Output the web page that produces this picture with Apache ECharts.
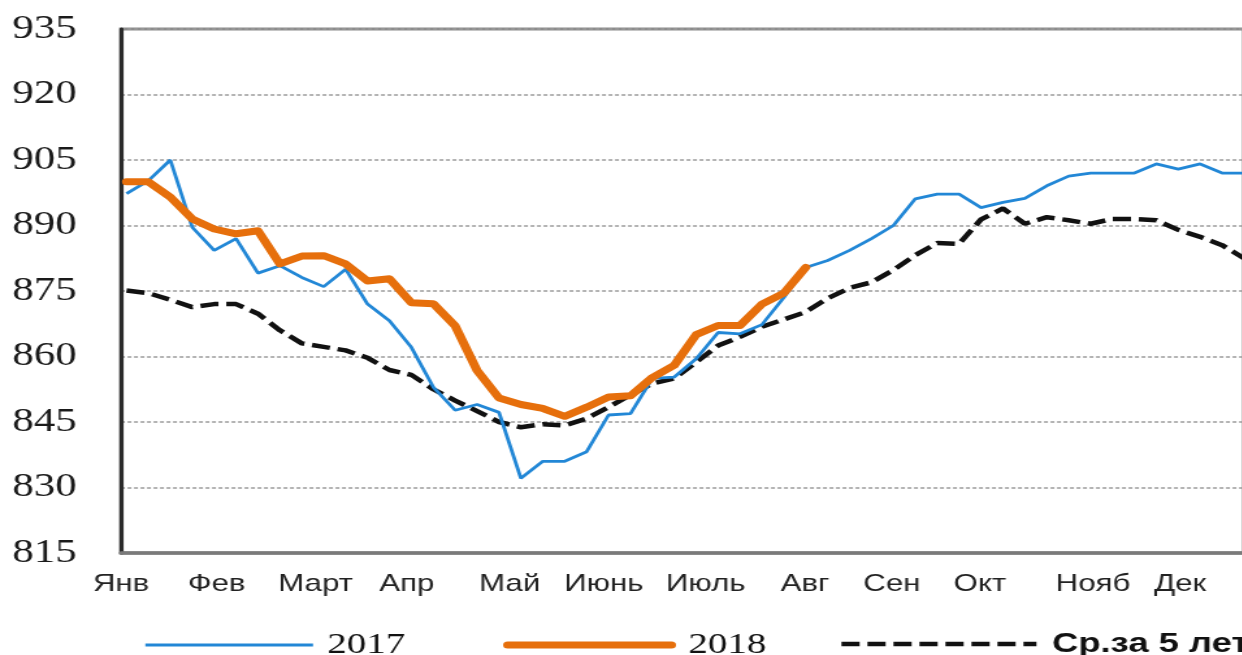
<!DOCTYPE html>
<html>
<head>
<meta charset="utf-8">
<script src="https://cdn.jsdelivr.net/npm/echarts@6/dist/echarts.min.js"></script>
<style>
  html, body { margin: 0; padding: 0; background: #fff; overflow: hidden; }
  /* the source picture is stretched sideways, so the chart is drawn narrower and widened */
  #main { width: 960px; height: 655px; transform: scaleX(1.3); transform-origin: 0 0; }
</style>
</head>
<body>
<div id="main"></div>
<script>
// weekly values, week 0 .. 51
var s2017 = [897.3, 900.3, 905, 889.6, 884.3, 887, 879.1, 880.8, 878.1, 876, 880, 872, 868.2, 862.1,
  853, 847.7, 849, 847.2, 832.1, 836, 836, 838.2, 846.6, 846.9, 855,
  855.3, 859.5, 865.5, 865.2, 867.3, 873.5, 880.4,
  882, 884.3, 887, 890, 896.1, 897.2, 897.2, 894.1, 895.3, 896.2, 899.1, 901.3, 902, 902, 902, 904.1, 902.9, 904.1, 902, 902];
var s2018 = [900, 900, 896.5, 891.5, 889.2, 888.1, 888.8, 881.2, 883, 883.1, 881.2, 877.3, 877.8, 872.3, 872.1,
  867, 856.8, 850.5, 849, 848.1, 846.3, 848.4, 850.7, 851, 855.2, 858, 865, 867.1, 867.1, 872, 874.5, 880.4];
var sAvg = [875.1, 874.5, 873, 871.3, 872, 872, 869.8, 866, 863, 862.2, 861.4, 859.7, 856.9, 855.8, 852.5,
  849.9, 847.5, 845, 843.8, 844.5, 844.2, 845.8, 848.4, 851.2, 853.8, 855, 858.7, 862.5, 864.5, 866.8, 868.5, 870.2,
  873.3, 875.7, 877, 879.8, 883.2, 886, 885.8, 891.4, 893.9, 890.4, 891.9, 891.2, 890.4, 891.5, 891.5, 891.2, 889, 887.4, 885.5, 882.5];

var seriesNames = ['2017', '2018', 'Ср.за 5 лет'];

// month labels and where they sit on the week axis
var monthNames = ['Янв', 'Фев', 'Март', 'Апр', 'Май', 'Июнь', 'Июль', 'Авг', 'Сен', 'Окт', 'Нояб', 'Дек'];
var monthPos = [-0.25, 4.11, 8.63, 12.79, 17.49, 21.78, 26.44, 30.96, 34.93, 38.95, 44.11, 48.08];

var yTicks = [815, 830, 845, 860, 875, 890, 905, 920, 935];

function toPoints(arr) {
  return arr.map(function (v, i) { return [i, v]; });
}

var chart = echarts.init(document.getElementById('main'), null, { width: 960, height: 655 });

var serifText = { fontFamily: 'Liberation Serif', fontSize: 30, color: '#111' };

// one legend per item, placed where the source has them
function legendAt(name, left, w, textStyle) {
  return {
    data: [name],
    left: left,
    top: 625,
    itemWidth: w,
    itemHeight: 14,
    itemStyle: { opacity: 0 },
    lineStyle: { width: 'inherit' },
    textStyle: textStyle
  };
}

var option = {
  animation: false,
  grid: {
    left: 93.1,
    right: 3.1,
    top: 29,
    bottom: 102,
    show: true,
    borderColor: '#8c8c8c',
    borderWidth: 3
  },
  legend: [
    legendAt(seriesNames[0], 105.4, 129, Object.assign({ padding: [0, 0, 0, 6] }, serifText)),
    legendAt(seriesNames[1], 382, 126, Object.assign({ padding: [0, 0, 0, 8] }, serifText)),
    legendAt(seriesNames[2], 640, 150, {
      fontFamily: 'Liberation Sans',
      fontWeight: 'bold',
      fontSize: 28,
      color: '#111',
      padding: [0, 0, 0, 7]
    })
  ],
  xAxis: {
    type: 'value',
    min: -0.25,
    max: 51,
    axisLine: { show: true, onZero: false, lineStyle: { color: '#7a7a7a', width: 3.5 } },
    axisTick: { show: false },
    splitLine: { show: false },
    axisLabel: {
      customValues: monthPos,
      margin: 19,
      fontFamily: 'Liberation Sans',
      fontSize: 24,
      color: '#222',
      formatter: function (v) {
        var k = monthPos.indexOf(v);
        return k >= 0 ? monthNames[k] : '';
      }
    }
  },
  yAxis: {
    type: 'value',
    min: yTicks[0],
    max: yTicks[yTicks.length - 1],
    interval: 15,
    axisLine: { show: true, onZero: false, lineStyle: { color: '#2a2a2a', width: 3.2 } },
    axisTick: { show: false },
    axisLabel: {
      margin: 34,
      fontFamily: 'Liberation Serif',
      fontSize: 33,
      color: '#1a1a1a'
    },
    splitLine: {
      show: true,
      lineStyle: { color: '#9a9a9a', width: 1.5, type: [3, 2] }
    }
  },
  series: [{
    name: seriesNames[0],
    type: 'line',
    data: toPoints(s2017),
    symbol: 'none',
    z: 3,
    lineStyle: { color: '#2287d6', width: 2.8 },
    itemStyle: { color: '#2287d6' }
  }, {
    name: seriesNames[2],
    type: 'line',
    data: toPoints(sAvg),
    symbol: 'none',
    z: 2,
    lineStyle: { color: '#111', width: 4.5, type: [14, 6] },
    itemStyle: { color: '#111' }
  }, {
    name: seriesNames[1],
    type: 'line',
    data: toPoints(s2018),
    symbol: 'none',
    z: 4,
    lineStyle: { color: '#e66f0c', width: 7, join: 'round', cap: 'round' },
    itemStyle: { color: '#e66f0c' }
  }]
};

chart.setOption(option);
</script>
</body>
</html>
